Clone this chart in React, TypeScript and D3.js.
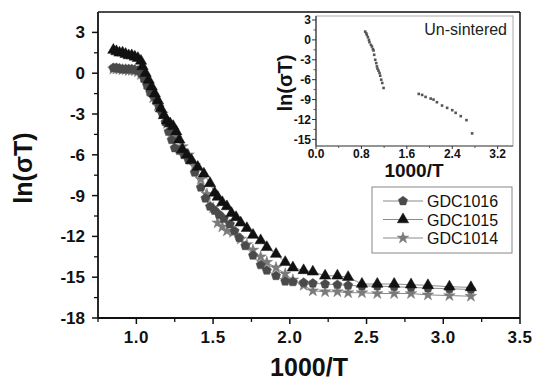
import React from "react";
import * as d3 from "d3";

// ---------- data ----------
const gdc1015X = [0.85,0.87,0.89,0.91,0.93,0.95,0.97,0.99,1.01,1.03,1.04,1.06,1.08,1.10,1.12,1.14,1.16,1.18,1.20,1.22,1.24,1.26,1.28,1.30,1.33,1.36,1.40,1.44,1.48,1.51,1.53,1.56,1.59,1.62,1.65,1.68,1.72,1.76,1.81,1.85,1.91,1.97,2.02,2.09,2.15,2.23,2.31,2.38,2.47,2.57,2.68,2.79,2.90,3.04,3.18];
const gdc1015Y = [1.7,1.6,1.5,1.5,1.4,1.3,1.3,1.2,1.1,0.9,0.5,0.0,-0.5,-1.0,-1.5,-2.0,-2.6,-3.1,-3.5,-3.7,-3.9,-4.3,-4.9,-5.6,-6.0,-6.4,-6.9,-7.4,-8.1,-8.8,-9.1,-9.5,-9.8,-10.3,-10.6,-11.0,-11.4,-11.9,-12.3,-12.8,-13.3,-13.9,-14.3,-14.5,-14.6,-14.9,-14.9,-15.0,-15.5,-15.5,-15.5,-15.55,-15.6,-15.7,-15.75];

const gdc1016X = [0.85,0.87,0.89,0.91,0.93,0.95,0.97,0.99,1.01,1.03,1.05,1.07,1.09,1.11,1.13,1.15,1.17,1.19,1.21,1.23,1.25,1.28,1.31,1.34,1.38,1.42,1.45,1.48,1.51,1.54,1.57,1.61,1.64,1.67,1.71,1.76,1.81,1.85,1.91,1.97,2.02,2.09,2.15,2.23,2.31,2.38,2.47,2.57,2.68,2.79,2.90,3.04,3.18];
const gdc1016Y = [0.4,0.4,0.35,0.3,0.3,0.3,0.3,0.25,0.2,0.0,-0.4,-0.9,-1.4,-1.6,-2.0,-2.5,-3.0,-3.6,-4.3,-4.9,-5.5,-5.7,-6.0,-6.4,-7.3,-8.4,-9.2,-9.8,-10.1,-10.4,-10.7,-11.1,-11.6,-12.1,-12.7,-13.4,-14.1,-14.5,-14.9,-15.3,-15.35,-15.4,-15.45,-15.5,-15.55,-15.6,-15.65,-15.65,-15.7,-15.75,-15.8,-15.85,-15.9];

const gdc1014X = [0.85,0.87,0.89,0.91,0.93,0.95,0.97,0.99,1.01,1.03,1.05,1.07,1.09,1.11,1.14,1.17,1.20,1.23,1.26,1.30,1.34,1.38,1.42,1.46,1.50,1.53,1.56,1.59,1.63,1.68,1.72,1.76,1.81,1.85,1.91,1.97,2.02,2.09,2.15,2.23,2.31,2.38,2.47,2.57,2.68,2.79,2.90,3.04,3.18];
const gdc1014Y = [0.3,0.3,0.3,0.25,0.25,0.2,0.2,0.2,0.1,-0.1,-0.3,-0.8,-1.3,-1.8,-2.4,-3.0,-3.7,-4.3,-4.8,-5.4,-6.0,-6.8,-7.8,-8.9,-9.9,-11.0,-11.3,-11.6,-11.7,-12.2,-12.6,-13.0,-13.5,-13.9,-14.3,-14.75,-15.2,-15.6,-16.0,-16.07,-16.07,-16.14,-16.14,-16.2,-16.2,-16.2,-16.3,-16.35,-16.4];

const insetX = [0.866,0.884,0.896,0.914,0.932,0.942,0.967,0.985,1.002,1.013,1.025,1.043,1.061,1.073,1.084,1.101,1.119,1.131,1.149,1.167,1.19,1.81,1.87,1.93,2.02,2.07,2.13,2.22,2.31,2.40,2.46,2.55,2.65,2.75];
const insetY = [1.25,1.0,0.75,0.4,0.0,-0.35,-0.75,-1.0,-1.4,-1.6,-2.25,-3.0,-3.5,-4.0,-4.35,-4.65,-5.0,-5.4,-6.0,-6.5,-7.25,-8.15,-8.3,-8.6,-8.85,-9.0,-9.4,-9.9,-10.25,-10.6,-11.0,-11.5,-12.1,-14.1];

const xTicks = [1.0, 1.5, 2.0, 2.5, 3.0, 3.5];
const xMinor = [0.75, 1.25, 1.75, 2.25, 2.75, 3.25];
const yTicks = [3, 0, -3, -6, -9, -12, -15, -18];
const yMinor = [1.5, -1.5, -4.5, -7.5, -10.5, -13.5, -16.5];
const insetXTicks = [0.0, 0.8, 1.6, 2.4, 3.2];
const insetXMinor = [0.4, 1.2, 2.0, 2.8];
const insetYTicks = [3, 0, -3, -6, -9, -12, -15];
const insetYMinor = [1.5, -1.5, -4.5, -7.5, -10.5, -13.5];
const seriesNames = ["GDC1016", "GDC1015", "GDC1014"];

// ---------- helpers ----------
const FONT = "'Liberation Sans', Arial, sans-serif";

function pentagonPath(r: number) {
  const pts: [number, number][] = [];
  for (let i = 0; i < 5; i++) {
    const a = -Math.PI / 2 + (i * 2 * Math.PI) / 5;
    pts.push([r * Math.cos(a), r * Math.sin(a)]);
  }
  return "M" + pts.map((p) => p[0].toFixed(2) + "," + p[1].toFixed(2)).join("L") + "Z";
}

const triPath = d3.symbol().type(d3.symbolTriangle).size(56)() as string;
const starPath = d3.symbol().type(d3.symbolStar).size(42)() as string;
const pentPath = pentagonPath(4.8);

type Series = { name: string; xs: number[]; ys: number[]; path: string; fill: string };

const series: Series[] = [
  { name: seriesNames[2], xs: gdc1014X, ys: gdc1014Y, path: starPath, fill: "#7a7a7a" },
  { name: seriesNames[0], xs: gdc1016X, ys: gdc1016Y, path: pentPath, fill: "#4a4a4a" },
  { name: seriesNames[1], xs: gdc1015X, ys: gdc1015Y, path: triPath, fill: "#111111" },
];

export default function App() {
  const x = d3.scaleLinear().domain([0.75, 3.5]).range([98, 520]);
  const y = d3.scaleLinear().domain([-18, 4.5]).range([318, 12]);
  const ix = d3.scaleLinear().domain([0, 3.47]).range([316, 513]);
  const iy = d3.scaleLinear().domain([-16, 3.6]).range([146, 16]);

  const line = (xs: number[], ys: number[]) =>
    d3.line<number>().x((_, i) => x(xs[i])).y((_, i) => y(ys[i]))(xs.map((_, i) => i)) as string;

  const legendRows = [
    { name: seriesNames[0], path: pentPath, fill: "#4a4a4a" },
    { name: seriesNames[1], path: triPath, fill: "#111111" },
    { name: seriesNames[2], path: starPath, fill: "#7a7a7a" },
  ];

  return (
    <svg width={535} height={381} style={{ position: "absolute", left: 0, top: 0, background: "#fff" }} fontFamily={FONT}>
      <rect x={0} y={0} width={535} height={381} fill="#fff" />
      {/* main frame */}
      <line x1={x(0.75)} x2={x(3.5)} y1={y(4.5)} y2={y(4.5)} stroke="#111" strokeWidth={1.5} />
      <line x1={x(3.5)} x2={x(3.5)} y1={y(4.5)} y2={y(-18)} stroke="#111" strokeWidth={1.5} />
      <line x1={x(0.75)} x2={x(0.75)} y1={y(4.5)} y2={y(-18)} stroke="#111" strokeWidth={1.8} />
      <line x1={x(0.75)} x2={x(3.5)} y1={y(-18)} y2={y(-18)} stroke="#111" strokeWidth={1.8} />

      {/* x ticks */}
      {xTicks.map((t) => (
        <g key={"xt" + t}>
          <line x1={x(t)} x2={x(t)} y1={y(-18)} y2={y(-18) + 6} stroke="#111" strokeWidth={1.5} />
          <text x={x(t)} y={343} textAnchor="middle" fontSize={17} fontWeight="bold" fill="#111" letterSpacing={0.5}>
            {t.toFixed(1)}
          </text>
        </g>
      ))}
      {xMinor.map((t) => (
        <line key={"xm" + t} x1={x(t)} x2={x(t)} y1={y(-18)} y2={y(-18) + 4} stroke="#111" strokeWidth={1.3} />
      ))}
      {/* y ticks */}
      {yTicks.map((t) => (
        <g key={"yt" + t}>
          <line x1={x(0.75) - 6} x2={x(0.75)} y1={y(t)} y2={y(t)} stroke="#111" strokeWidth={1.5} />
          <text x={85} y={y(t) + 6} textAnchor="end" fontSize={17} fontWeight="bold" fill="#111">
            {t}
          </text>
        </g>
      ))}
      {yMinor.map((t) => (
        <line key={"ym" + t} x1={x(0.75) - 4} x2={x(0.75)} y1={y(t)} y2={y(t)} stroke="#111" strokeWidth={1.3} />
      ))}

      {/* axis titles */}
      <text x={309} y={376} textAnchor="middle" fontSize={25} fontWeight="bold" fill="#111">1000/T</text>
      <text transform={`translate(32,168) rotate(-90)`} textAnchor="middle" fontSize={25} fontWeight="bold" fill="#111">
        ln(σT)
      </text>

      {/* series lines */}
      {series.map((s) => (
        <path key={"l" + s.name} d={line(s.xs, s.ys)} fill="none" stroke="#8a8a8a" strokeWidth={1} />
      ))}
      {/* markers */}
      {series.map((s) => (
        <g key={"m" + s.name}>
          {s.xs.map((v, i) => (
            <path key={i} d={s.path} transform={`translate(${x(v)},${y(s.ys[i])})`} fill={s.fill} stroke={s.fill} strokeWidth={0.5} />
          ))}
        </g>
      ))}

      {/* legend */}
      <rect x={372} y={187} width={140} height={66} fill="#fff" stroke="#888" strokeWidth={1} />
      {legendRows.map((r, i) => (
        <g key={"lg" + r.name} transform={`translate(0,${201 + i * 18.5})`}>
          <line x1={383} x2={423} y1={0} y2={0} stroke="#8a8a8a" strokeWidth={1} />
          <path d={r.path} transform={`translate(403,0)`} fill={r.fill} stroke={r.fill} strokeWidth={0.5} />
          <text x={427} y={6} fontSize={16} fill="#111">{r.name}</text>
        </g>
      ))}

      {/* inset */}
      <rect x={ix(0)} y={iy(3.6)} width={ix(3.47) - ix(0)} height={iy(-16) - iy(3.6)} fill="#fff" stroke="#aaa" strokeWidth={1} />
      <line x1={ix(0)} x2={ix(0)} y1={iy(3.6)} y2={iy(-16)} stroke="#333" strokeWidth={1.2} />
      <line x1={ix(0)} x2={ix(3.47)} y1={iy(-16)} y2={iy(-16)} stroke="#555" strokeWidth={1.2} />
      {insetXTicks.map((t) => (
        <g key={"ixt" + t}>
          <line x1={ix(t)} x2={ix(t)} y1={iy(-16)} y2={iy(-16) + 3} stroke="#333" strokeWidth={1} />
          <text x={ix(t)} y={158} textAnchor="middle" fontSize={12} fontWeight="bold" fill="#111">{t.toFixed(1)}</text>
        </g>
      ))}
      {insetXMinor.map((t) => (
        <line key={"ixm" + t} x1={ix(t)} x2={ix(t)} y1={iy(-16)} y2={iy(-16) + 2} stroke="#555" strokeWidth={1} />
      ))}
      {insetYTicks.map((t) => (
        <g key={"iyt" + t}>
          <line x1={ix(0) - 4} x2={ix(0)} y1={iy(t)} y2={iy(t)} stroke="#333" strokeWidth={1} />
          <text x={311} y={iy(t) + 4.5} textAnchor="end" fontSize={12} fontWeight="bold" fill="#111">{t}</text>
        </g>
      ))}
      {insetYMinor.map((t) => (
        <line key={"iym" + t} x1={ix(0) - 2.5} x2={ix(0)} y1={iy(t)} y2={iy(t)} stroke="#555" strokeWidth={1} />
      ))}
      {insetX.map((v, i) => (
        <rect key={"ip" + i} x={ix(v) - 1.3} y={iy(insetY[i]) - 1.3} width={2.6} height={2.6} fill="#555" />
      ))}
      <text x={507} y={35} textAnchor="end" fontSize={16} fill="#222">Un-sintered</text>
      <text x={414} y={177} textAnchor="middle" fontSize={19} fontWeight="bold" fill="#111">1000/T</text>
      <text transform={`translate(292,83) rotate(-90)`} textAnchor="middle" fontSize={20} fontWeight="bold" fill="#111">
        ln(σT)
      </text>
    </svg>
  );
}
